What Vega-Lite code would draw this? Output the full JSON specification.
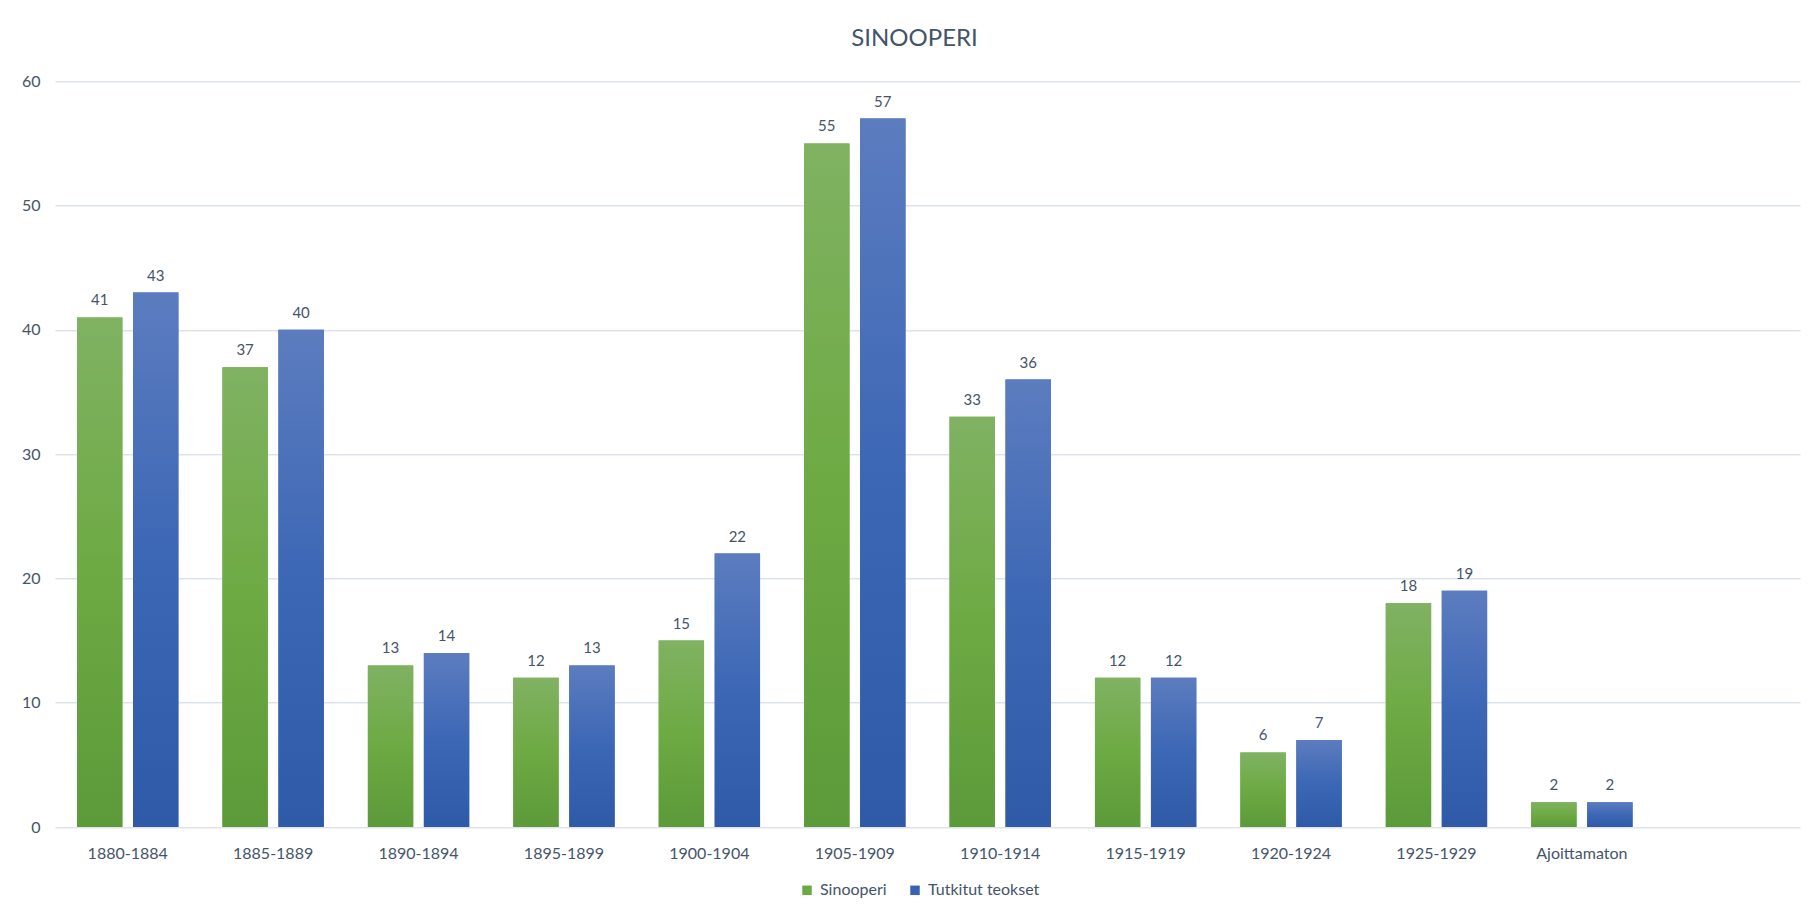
{
  "$schema": "https://vega.github.io/schema/vega-lite/v6.json",
  "width": 1745,
  "height": 745.7,
  "autosize": {"type": "none"},
  "padding": {"left": 55, "top": 81.3, "right": 11, "bottom": 89},
  "background": "white",
  "title": {
    "text": "SINOOPERI",
    "anchor": "middle",
    "frame": "group",
    "dx": -13,
    "offset": 22,
    "font": "Lato",
    "fontSize": 24,
    "fontWeight": "normal",
    "color": "#44546A"
  },
  "config": {
    "view": {"stroke": null},
    "font": "Lato"
  },
  "data": {
    "values": [
      {"kausi": "1880-1884", "sarja": "Sinooperi", "arvo": 41},
      {"kausi": "1880-1884", "sarja": "Tutkitut teokset", "arvo": 43},
      {"kausi": "1885-1889", "sarja": "Sinooperi", "arvo": 37},
      {"kausi": "1885-1889", "sarja": "Tutkitut teokset", "arvo": 40},
      {"kausi": "1890-1894", "sarja": "Sinooperi", "arvo": 13},
      {"kausi": "1890-1894", "sarja": "Tutkitut teokset", "arvo": 14},
      {"kausi": "1895-1899", "sarja": "Sinooperi", "arvo": 12},
      {"kausi": "1895-1899", "sarja": "Tutkitut teokset", "arvo": 13},
      {"kausi": "1900-1904", "sarja": "Sinooperi", "arvo": 15},
      {"kausi": "1900-1904", "sarja": "Tutkitut teokset", "arvo": 22},
      {"kausi": "1905-1909", "sarja": "Sinooperi", "arvo": 55},
      {"kausi": "1905-1909", "sarja": "Tutkitut teokset", "arvo": 57},
      {"kausi": "1910-1914", "sarja": "Sinooperi", "arvo": 33},
      {"kausi": "1910-1914", "sarja": "Tutkitut teokset", "arvo": 36},
      {"kausi": "1915-1919", "sarja": "Sinooperi", "arvo": 12},
      {"kausi": "1915-1919", "sarja": "Tutkitut teokset", "arvo": 12},
      {"kausi": "1920-1924", "sarja": "Sinooperi", "arvo": 6},
      {"kausi": "1920-1924", "sarja": "Tutkitut teokset", "arvo": 7},
      {"kausi": "1925-1929", "sarja": "Sinooperi", "arvo": 18},
      {"kausi": "1925-1929", "sarja": "Tutkitut teokset", "arvo": 19},
      {"kausi": "Ajoittamaton", "sarja": "Sinooperi", "arvo": 2},
      {"kausi": "Ajoittamaton", "sarja": "Tutkitut teokset", "arvo": 2}
    ]
  },
  "encoding": {
    "x": {
      "field": "kausi",
      "type": "nominal",
      "sort": null,
      "scale": {
        "domain": ["1880-1884", "1885-1889", "1890-1894", "1895-1899", "1900-1904", "1905-1909", "1910-1914", "1915-1919", "1920-1924", "1925-1929", "Ajoittamaton", " "],
        "paddingInner": 0.303,
        "paddingOuter": 0.1515
      },
      "axis": {
        "title": null,
        "labelAngle": 0,
        "labelFont": "Lato",
        "labelFontSize": 16,
        "labelColor": "#44546A",
        "labelPadding": 18,
        "ticks": false,
        "tickSize": 0,
        "domain": false,
        "grid": false
      }
    },
    "xOffset": {
      "field": "sarja",
      "type": "nominal",
      "scale": {"domain": ["Sinooperi", "Tutkitut teokset"], "paddingInner": 0.19, "paddingOuter": 0}
    },
    "y": {
      "field": "arvo",
      "type": "quantitative",
      "scale": {"domain": [0, 60], "nice": false},
      "axis": {
        "title": null,
        "values": [0, 10, 20, 30, 40, 50, 60],
        "labelFont": "Lato",
        "labelFontSize": 16,
        "labelColor": "#44546A",
        "labelPadding": 15,
        "ticks": false,
        "tickSize": 0,
        "domain": false,
        "grid": true,
        "gridColor": "#DEE3EB",
        "gridWidth": 1.5
      }
    }
  },
  "layer": [
    {
      "mark": {"type": "bar"},
      "encoding": {
        "color": {
          "field": "sarja",
          "type": "nominal",
          "scale": {
            "domain": ["Sinooperi", "Tutkitut teokset"],
            "range": ["#6AA943", "#3862B3"]
          },
          "legend": {
            "title": null,
            "orient": "none",
            "legendX": 744,
            "legendY": 801,
            "direction": "horizontal",
            "symbolType": "square",
            "symbolSize": 90,
            "symbolStrokeWidth": 0,
            "labelFont": "Lato",
            "labelFontSize": 16,
            "labelColor": "#44546A",
            "labelOffset": 5,
            "columnPadding": 20
          }
        }
      }
    },
    {
      "transform": [{"filter": "datum.sarja === 'Sinooperi'"}],
      "mark": {
        "type": "bar",
        "color": {"gradient": "linear", "x1": 0, "y1": 0, "x2": 0, "y2": 1, "stops": [{"offset": 0, "color": "#80B262"}, {"offset": 0.5, "color": "#6DAA43"}, {"offset": 1, "color": "#5C9A3A"}]}
      }
    },
    {
      "transform": [{"filter": "datum.sarja === 'Tutkitut teokset'"}],
      "mark": {
        "type": "bar",
        "color": {"gradient": "linear", "x1": 0, "y1": 0, "x2": 0, "y2": 1, "stops": [{"offset": 0, "color": "#5C7CBF"}, {"offset": 0.5, "color": "#3C67B5"}, {"offset": 1, "color": "#2E5AA8"}]}
      }
    },
    {
      "mark": {
        "type": "text",
        "baseline": "alphabetic",
        "dy": -12,
        "font": "Lato",
        "fontSize": 15,
        "color": "#44546A"
      },
      "encoding": {
        "text": {"field": "arvo", "type": "quantitative"}
      }
    }
  ]
}
